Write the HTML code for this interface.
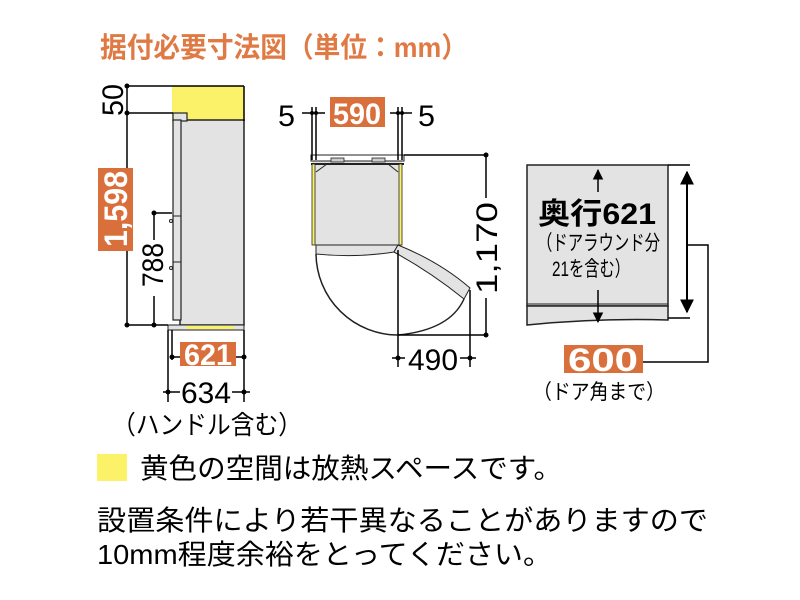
<!DOCTYPE html>
<html><head><meta charset="utf-8"><style>
html,body{margin:0;padding:0;background:#fff;width:800px;height:600px;overflow:hidden}
svg{display:block}
text{font-family:"Liberation Sans","Noto Sans CJK JP",sans-serif}
</style></head><body>
<svg width="800" height="600" viewBox="0 0 800 600" xmlns="http://www.w3.org/2000/svg">
<defs>
<marker id="ah" viewBox="0 0 10 10" refX="9" refY="5" markerWidth="7" markerHeight="8" orient="auto-start-reverse"><path d="M0,0 L10,5 L0,10 z" fill="#000"/></marker>
</defs>
<text x="100" y="57" font-size="28" font-weight="bold" fill="#e07a45" textLength="368" lengthAdjust="spacingAndGlyphs">据付必要寸法図（単位：mm）</text>

<!-- Side view -->
<rect x="172" y="86" width="72" height="35" fill="#fbf26a"/>
<rect x="180" y="120" width="64" height="205" fill="#e3e3e3" stroke="#222" stroke-width="1.5"/>
<rect x="173" y="113" width="14" height="8" fill="#e3e3e3" stroke="#222" stroke-width="1.2"/>
<rect x="173" y="120" width="8" height="200" fill="#e3e3e3" stroke="#222" stroke-width="1.2"/>
<line x1="173" y1="216" x2="181" y2="216" stroke="#222"/>
<line x1="173" y1="262" x2="181" y2="262" stroke="#222"/>
<circle cx="171" cy="221" r="1.5" fill="none" stroke="#222"/>
<circle cx="171" cy="268" r="1.5" fill="none" stroke="#222"/>
<rect x="168" y="325" width="76" height="5" fill="#e3e3e3" stroke="#222"/>
<rect x="186" y="326" width="48" height="3" fill="#fbf26a"/>
<g stroke="#000" stroke-width="1.5">
<line x1="244" y1="86" x2="244" y2="121"/>
<line x1="127" y1="86" x2="244" y2="86"/>
<line x1="127" y1="113" x2="173" y2="113"/>
<line x1="127" y1="86" x2="127" y2="325"/>
<line x1="127" y1="325" x2="168" y2="325"/>
<line x1="154" y1="213" x2="154" y2="325"/>
<line x1="154" y1="213" x2="172" y2="213"/>
<line x1="168" y1="330" x2="168" y2="402"/>
<line x1="244" y1="330" x2="244" y2="402"/>
<line x1="172" y1="330" x2="172" y2="360"/>
<line x1="172" y1="357" x2="244" y2="357"/>
<line x1="163" y1="392" x2="250" y2="392"/>
</g>
<g fill="#000">
<circle cx="127" cy="86" r="2.5"/><circle cx="127" cy="113" r="2.5"/><circle cx="127" cy="325" r="2.5"/>
<circle cx="154" cy="213" r="2.5"/><circle cx="154" cy="325" r="2.5"/>
<circle cx="172" cy="357" r="2.5"/><circle cx="244" cy="357" r="2.5"/>
<circle cx="168" cy="392" r="2.5"/><circle cx="244" cy="392" r="2.5"/>
</g>
<text transform="translate(123,100) rotate(-90)" font-size="30" text-anchor="middle" textLength="32" lengthAdjust="spacingAndGlyphs">50</text>
<rect x="98" y="168" width="35" height="83" fill="#d9703c"/>
<text transform="translate(127,209) rotate(-90)" font-size="32" font-weight="bold" fill="#fff" text-anchor="middle" textLength="76" lengthAdjust="spacingAndGlyphs">1,598</text>
<rect x="140" y="240" width="28" height="56" fill="#fff"/>
<text transform="translate(163,265) rotate(-90)" font-size="30" text-anchor="middle" textLength="44" lengthAdjust="spacingAndGlyphs">788</text>
<rect x="180" y="342" width="56" height="24" fill="#d9703c"/>
<text x="208" y="365" font-size="30" font-weight="bold" fill="#fff" text-anchor="middle" textLength="48" lengthAdjust="spacingAndGlyphs">621</text>
<rect x="180" y="378" width="52" height="28" fill="#fff"/>
<text x="206" y="403" font-size="30" text-anchor="middle" textLength="50" lengthAdjust="spacingAndGlyphs">634</text>
<text x="112" y="434" font-size="26" textLength="190" lengthAdjust="spacingAndGlyphs">（ハンドル含む）</text>

<!-- Top view -->
<rect x="312" y="160" width="90" height="85" fill="#e3e3e3"/>
<rect x="311" y="155" width="93" height="6" fill="#fff" stroke="#222"/>
<rect x="331" y="158" width="13" height="4" fill="#ccc" stroke="#222" stroke-width="0.8"/>
<rect x="372" y="158" width="13" height="4" fill="#ccc" stroke="#222" stroke-width="0.8"/>
<line x1="311" y1="164" x2="404" y2="164" stroke="#222" stroke-width="2"/>
<rect x="312" y="164" width="3" height="81" fill="#fbf26a" stroke="#222" stroke-width="0.8"/>
<rect x="399" y="164" width="3" height="81" fill="#fbf26a" stroke="#222" stroke-width="0.8"/>
<path d="M316,172 L327,164 M398,172 L388,164" stroke="#222"/>
<path d="M316,245 L316,254 Q356,258 394,252 L398,245 Z" fill="#e3e3e3" stroke="#222"/>
<path d="M316,254 A82,82 0 0 0 398,335" fill="none" stroke="#222" stroke-width="1.5"/>
<path d="M394,252 L398,245 Q440,262 470,288 L464,299 Q432,273 394,252 Z" fill="#e3e3e3" stroke="#222"/>
<path d="M398,335 Q450,330 464,299" fill="none" stroke="#222" stroke-width="1.5"/>
<g stroke="#000" stroke-width="1.5">
<line x1="398" y1="250" x2="398" y2="367"/>
<line x1="470" y1="290" x2="470" y2="367"/>
<line x1="312" y1="107" x2="312" y2="160"/><line x1="316" y1="107" x2="316" y2="160"/>
<line x1="398" y1="107" x2="398" y2="160"/><line x1="402" y1="107" x2="402" y2="160"/>
<line x1="302" y1="113" x2="325" y2="113"/><line x1="390" y1="113" x2="412" y2="113"/>
<line x1="404" y1="155" x2="486" y2="155"/>
<line x1="486" y1="155" x2="486" y2="335"/>
<line x1="398" y1="335" x2="486" y2="335"/>
<line x1="392" y1="358" x2="476" y2="358"/>
</g>
<g fill="#000"><circle cx="486" cy="155" r="2.5"/><circle cx="486" cy="335" r="2.5"/>
<circle cx="398" cy="358" r="2.5"/><circle cx="470" cy="358" r="2.5"/>
<circle cx="312" cy="113" r="2"/><circle cx="316" cy="113" r="2"/><circle cx="398" cy="113" r="2"/><circle cx="402" cy="113" r="2"/></g>
<text x="278" y="126" font-size="30" textLength="17" lengthAdjust="spacingAndGlyphs">5</text>
<text x="418" y="126" font-size="30" textLength="17" lengthAdjust="spacingAndGlyphs">5</text>
<rect x="330" y="97" width="55" height="30" fill="#d9703c"/>
<text x="357" y="124" font-size="30" font-weight="bold" fill="#fff" text-anchor="middle" textLength="48" lengthAdjust="spacingAndGlyphs">590</text>
<rect x="472" y="198" width="28" height="100" fill="#fff"/>
<text transform="translate(497,248) rotate(-90)" font-size="30" text-anchor="middle" textLength="92" lengthAdjust="spacingAndGlyphs">1,170</text>
<rect x="405" y="345" width="55" height="28" fill="#fff"/>
<text x="433" y="370" font-size="30" text-anchor="middle" textLength="50" lengthAdjust="spacingAndGlyphs">490</text>

<!-- Front view -->
<rect x="527" y="165" width="141" height="141" fill="#e3e3e3" stroke="#222" stroke-width="1.5"/>
<path d="M527,306 L668,306 L668,320 Q598,318 527,325 Z" fill="#e3e3e3" stroke="#222" stroke-width="1.5"/>
<line x1="527" y1="304" x2="668" y2="304" stroke="#222"/>
<line x1="598" y1="170" x2="598" y2="192" stroke="#000" stroke-width="1.5" marker-start="url(#ah)"/>
<line x1="598" y1="290" x2="598" y2="322" stroke="#000" stroke-width="1.5" marker-end="url(#ah)"/>
<line x1="687" y1="172" x2="687" y2="312" stroke="#000" stroke-width="2" marker-start="url(#ah)" marker-end="url(#ah)"/>
<g stroke="#000" stroke-width="1.5" fill="none">
<line x1="668" y1="165" x2="690" y2="165"/><line x1="668" y1="318" x2="690" y2="318"/>
<polyline points="688,245 708,245 708,362 643,362"/>
</g>
<text x="538" y="224" font-size="30" font-weight="bold" textLength="118" lengthAdjust="spacingAndGlyphs">奥行621</text>
<text x="537" y="250" font-size="21" textLength="123" lengthAdjust="spacingAndGlyphs">（ドアラウンド分</text>
<text x="552" y="276" font-size="21" textLength="78" lengthAdjust="spacingAndGlyphs">21を含む）</text>
<rect x="564" y="345" width="79" height="28" fill="#d9703c"/>
<text x="603" y="371" font-size="32" font-weight="bold" fill="#fff" text-anchor="middle" textLength="70" lengthAdjust="spacingAndGlyphs">600</text>
<text x="533" y="399" font-size="21" textLength="132" lengthAdjust="spacingAndGlyphs">（ドア角まで）</text>

<!-- Legend -->
<rect x="97" y="454" width="30" height="27" fill="#fbf26a"/>
<text x="140" y="478" font-size="28" textLength="422" lengthAdjust="spacingAndGlyphs">黄色の空間は放熱スペースです。</text>
<text x="97" y="530" font-size="28" textLength="611" lengthAdjust="spacingAndGlyphs">設置条件により若干異なることがありますので</text>
<text x="97" y="564" font-size="28" textLength="455" lengthAdjust="spacingAndGlyphs">10mm程度余裕をとってください。</text>
</svg>
</body></html>
